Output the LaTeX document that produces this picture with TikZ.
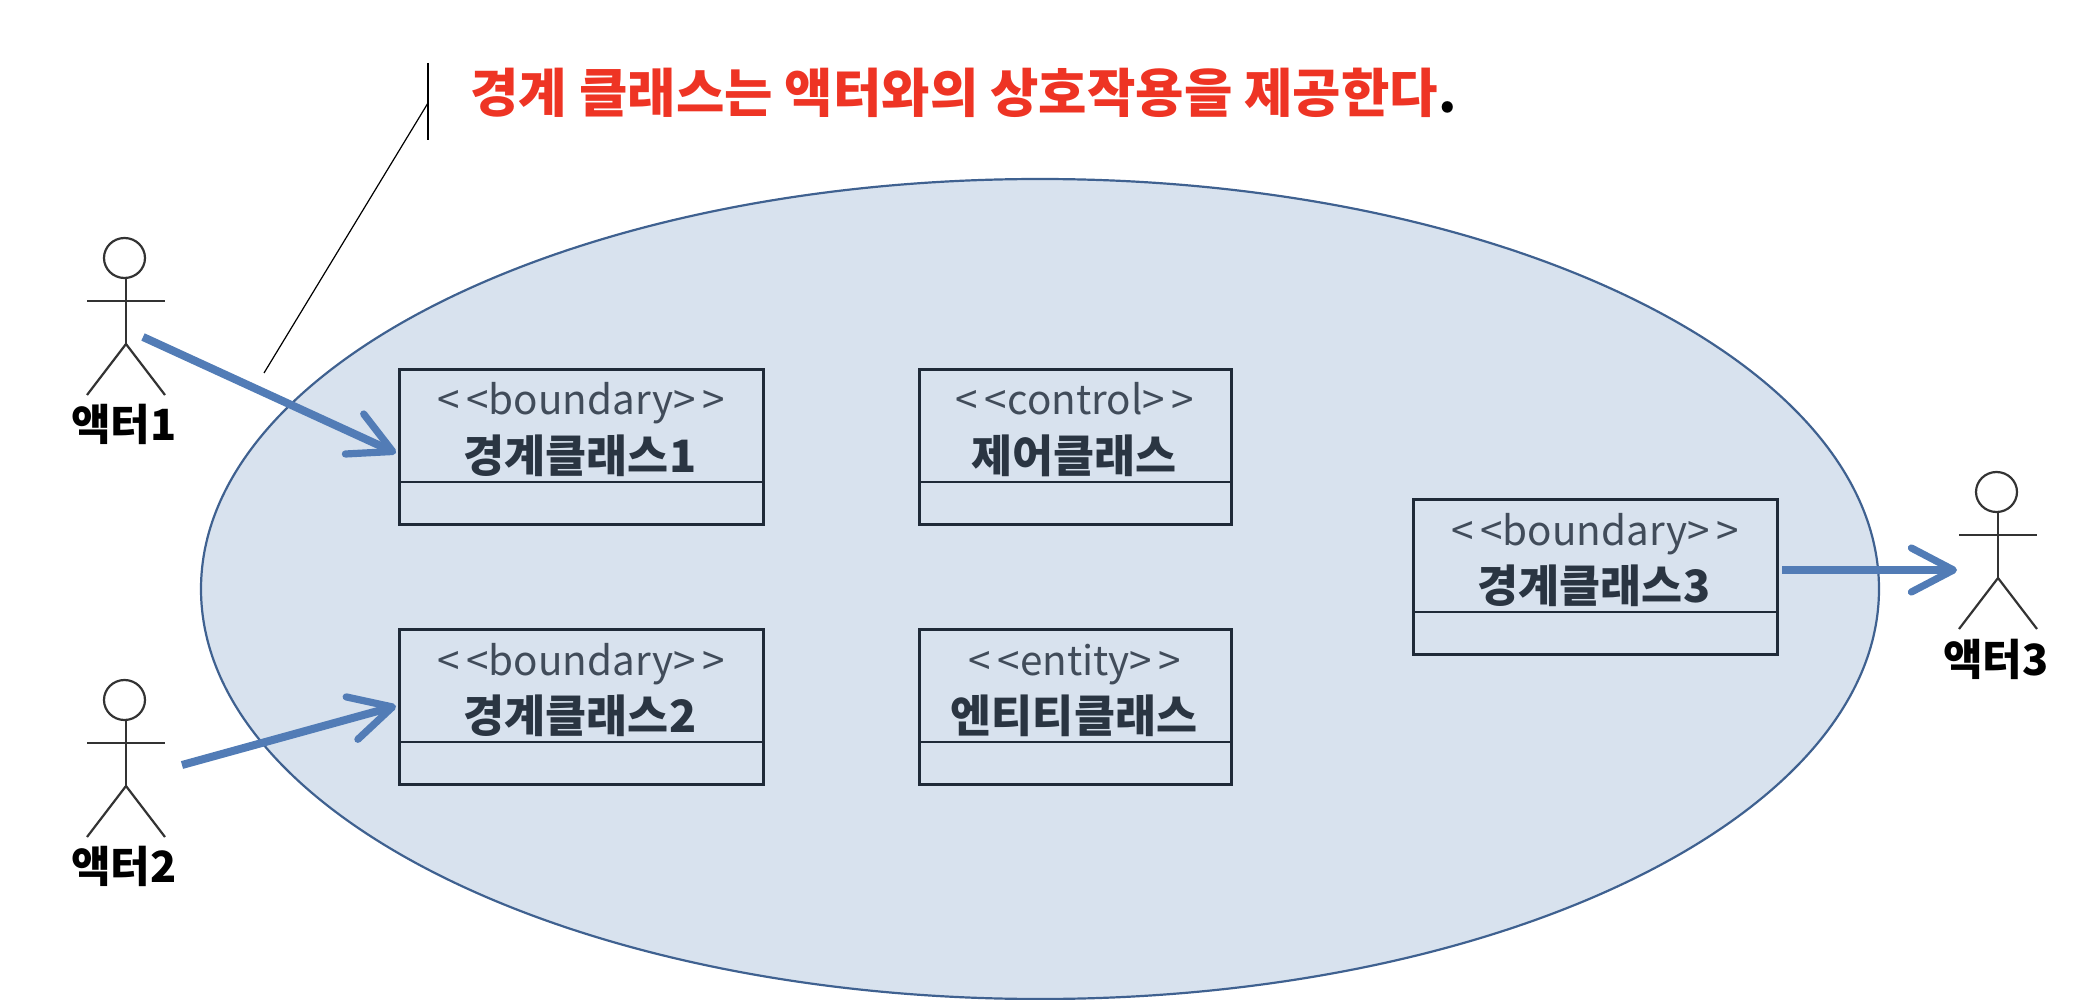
\documentclass[tikz,border=0pt]{standalone}
\usepackage{fontspec}
\usetikzlibrary{arrows.meta,shapes.geometric}
\setmainfont{Noto Sans CJK KR}
\definecolor{uclipse}{HTML}{D8E2EE}
\definecolor{uborder}{HTML}{3F6190}
\definecolor{udark}{HTML}{1F2A38}
\definecolor{utext}{HTML}{2A3542}
\definecolor{ustereo}{HTML}{414C5A}
\definecolor{ublue}{HTML}{527CB6}
\definecolor{ured}{HTML}{EE3424}
\tikzset{
  x=0.5pt,y=-0.5pt,
  sphere/.style={ellipse,draw=uborder,fill=uclipse,line width=1.1pt,inner sep=0pt,minimum width=839pt,minimum height=410pt},
  classbox/.style={rectangle,draw=udark,line width=1.3pt,inner sep=0pt,anchor=north west,minimum width=182pt,minimum height=77.5pt},
  widebox/.style={classbox,minimum width=156pt},
  divider/.style={draw=udark,line width=1.3pt},
  stereo/.style={anchor=base,inner sep=0pt,text=ustereo,font=\fontsize{20.2}{24}\selectfont},
  classname/.style={anchor=base,inner sep=0pt,text=utext,font=\fontsize{22.3}{24}\selectfont\bfseries},
  actorname/.style={anchor=base,inner sep=0pt,text=black,font=\fontsize{21.5}{24}\selectfont\bfseries},
  head/.style={ellipse,draw=black!80,line width=1.1pt,inner sep=0pt,minimum width=20.5pt,minimum height=20pt},
  limb/.style={draw=black!80,line width=1.1pt},
  flow/.style={draw=ublue,line width=4pt,-{Straight Barb[round,length=21pt,width=22pt,line width=3.6pt]}},
  leader/.style={draw=black,line width=0.6pt},
  titletext/.style={anchor=base west,inner sep=0pt,font=\fontsize{26.3}{30}\selectfont\bfseries}
}
\newcommand{\stickman}[3]{% name, x of body, y of head top
  \node[head] (#1head) at (#2-1.5,#3+20) {};
  \coordinate (#1hip) at (#2,#3+106);
  \draw[limb] (#1head.south) ++(1.5,0) -- (#1hip);
  \draw[limb] (#2-39,#3+63) -- (#2+39,#3+63);
  \draw[limb] (#2-39,#3+157) -- (#1hip) -- (#2+39,#3+157);
}
\begin{document}
\begin{tikzpicture}
\useasboundingbox (0,0) rectangle (2100,1000);
\node[sphere] (system) at (1040,589) {};

% note leader
\coordinate (notetop) at (428,63);
\coordinate (notebot) at (428,140);
\coordinate (notemid) at (428,103);
\coordinate (notetip) at (264,373);
\draw[leader] (notetop) -- (notebot);
\draw[leader] (notemid) -- (notetip);
\node[titletext] (title) at (470,113) {\textcolor{ured}{경계 클래스는 액터와의 상호작용을 제공한다}\textcolor{black}{.}};

% class boxes
\node[classbox] (b1) at (398,368) {};
\coordinate (b1l) at (398,482); \coordinate (b1r) at (762,482);
\draw[divider] (b1l) -- (b1r);
\node[stereo] (b1s) at (581,415) {<\,<boundary>\,>};
\node[classname] (b1n) at (580,472) {경계클래스1};

\node[classbox] (b2) at (398,628) {};
\coordinate (b2l) at (398,742); \coordinate (b2r) at (762,742);
\draw[divider] (b2l) -- (b2r);
\node[stereo] (b2s) at (581,675) {<\,<boundary>\,>};
\node[classname] (b2n) at (580,732) {경계클래스2};

\node[widebox] (c) at (918,368) {};
\coordinate (cl) at (918,482); \coordinate (cr) at (1230,482);
\draw[divider] (cl) -- (cr);
\node[stereo] (cs) at (1075,415) {<\,<control>\,>};
\node[classname] (cn) at (1074,472) {제어클래스};

\node[widebox] (e) at (918,628) {};
\coordinate (el) at (918,742); \coordinate (er) at (1230,742);
\draw[divider] (el) -- (er);
\node[stereo] (es) at (1075,675) {<\,<entity>\,>};
\node[classname] (en) at (1074,732) {엔티티클래스};

\node[classbox] (b3) at (1412,498) {};
\coordinate (b3l) at (1412,612); \coordinate (b3r) at (1776,612);
\draw[divider] (b3l) -- (b3r);
\node[stereo] (b3s) at (1595,545) {<\,<boundary>\,>};
\node[classname] (b3n) at (1594,602) {경계클래스3};

% actors
\stickman{a1}{126}{238}
\node[actorname] (a1n) at (124,440) {액터1};
\stickman{a2}{126}{680}
\node[actorname] (a2n) at (124,882) {액터2};
\stickman{a3}{1998}{472}
\node[actorname] (a3n) at (1996,675) {액터3};

% flows
\coordinate (f1s) at (143,337); \coordinate (f1e) at (396,453);
\coordinate (f2s) at (182,765); \coordinate (f2e) at (396,706);
\coordinate (f3s) at (1782,570); \coordinate (f3e) at (1957,570);
\draw[flow] (f1s) -- (f1e);
\draw[flow] (f2s) -- (f2e);
\draw[flow] (f3s) -- (f3e);
\end{tikzpicture}
\end{document}
